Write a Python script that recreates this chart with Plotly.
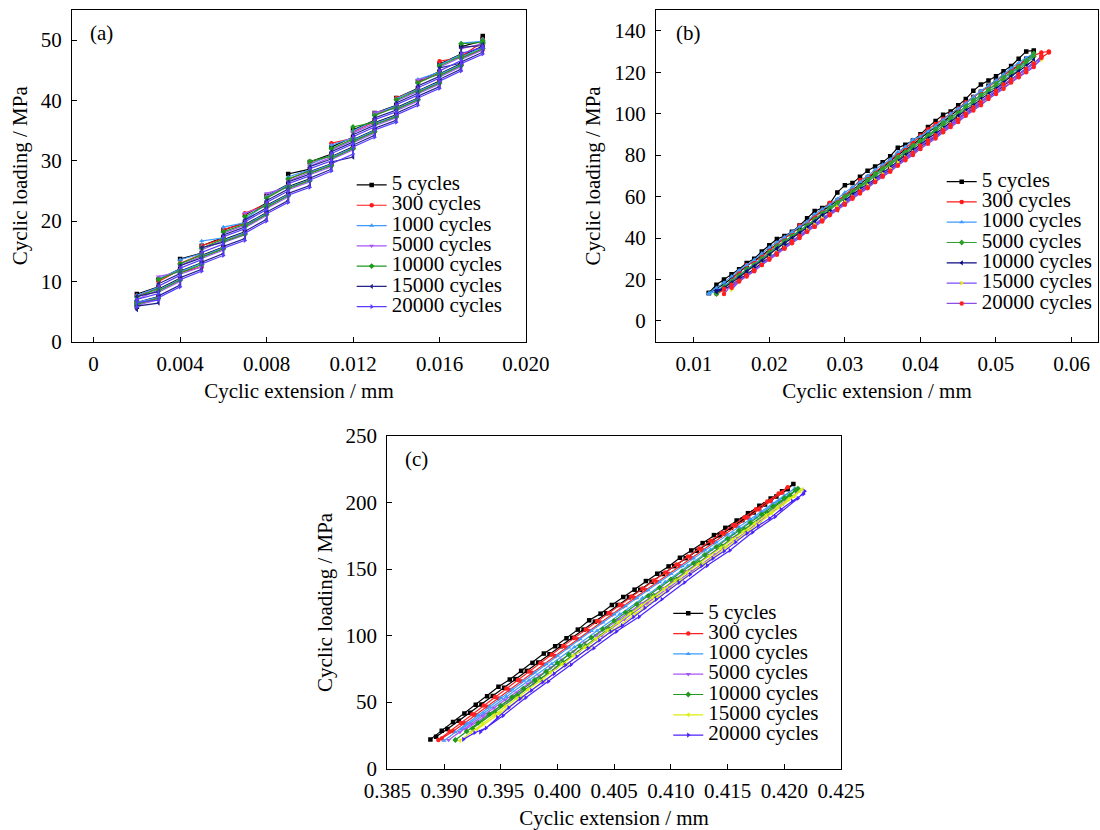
import plotly.graph_objects as go

FONT = "Liberation Serif"
SERIES = ["5 cycles", "300 cycles", "1000 cycles", "5000 cycles",
          "10000 cycles", "15000 cycles", "20000 cycles"]

# ---------------- panel (a): extension readings in micrometres ----------------
XA_UP = [2, 2, 3, 3, 4, 4, 5, 5, 6, 6, 7, 7, 8, 8, 9, 9, 10, 10, 11, 11, 12, 12,
         13, 13, 14, 14, 15, 15, 16, 16, 17, 17, 18, 18]
XA_DN = [18, 18, 17, 17, 16, 16, 15, 15, 14, 14, 13, 13, 12, 12, 11, 11, 10, 10,
         9, 9, 8, 8, 7, 7, 6, 6, 5, 5, 4, 4, 3, 3, 2, 2]

YA_5_UP = [6.6, 7.9, 9.1, 10.3, 12.1, 13.7, 14.7, 15.9, 17.3, 18.5, 19.8, 21.0, 23.0, 24.2, 26.1, 27.8, 28.6, 29.8,
           31.1, 32.3, 33.9, 35.1, 36.7, 37.9, 39.2, 40.4, 42.0, 43.2, 44.8, 46.0, 47.7, 48.9, 49.9, 50.7]
YA_5_DN = [50.2, 49.0, 47.3, 46.1, 44.4, 43.2, 41.6, 40.4, 38.8, 37.6, 36.3, 35.1, 33.5, 32.3, 30.7, 29.5, 28.2, 27.0,
           25.7, 24.5, 22.6, 21.4, 19.4, 18.2, 16.9, 15.7, 14.3, 13.1, 11.7, 10.5, 8.7, 7.5, 6.5, 5.8]
YA_300_UP = [6.2, 7.6, 8.9, 10.0, 11.9, 13.0, 14.5, 15.9, 17.1, 18.6, 19.6, 21.3, 22.8, 24.0, 25.9, 26.9, 28.4, 29.5,
             30.9, 32.9, 33.7, 34.8, 36.5, 37.6, 39.0, 40.4, 41.8, 43.0, 44.6, 46.5, 47.1, 47.3, 49.7, 50.1]
YA_300_DN = [49.3, 48.4, 47.1, 45.9, 44.2, 43.0, 41.4, 40.2, 38.6, 37.4, 36.1, 34.9, 33.3, 32.1, 30.5, 29.3, 28.0, 26.8,
             25.5, 24.3, 22.4, 21.2, 19.2, 18.0, 16.7, 15.5, 14.1, 12.4, 11.5, 10.3, 8.5, 7.3, 6.3, 5.9]
YA_1000_UP = [6.8, 7.7, 9.0, 10.4, 12.0, 13.6, 14.6, 16.7, 17.2, 19.0, 19.7, 20.3, 22.9, 24.1, 26.0, 27.3, 28.5, 29.4,
              31.0, 32.6, 33.8, 35.0, 36.6, 37.8, 39.1, 40.3, 41.9, 43.5, 44.7, 45.9, 47.6, 49.5, 49.8, 50.2]
YA_1000_DN = [49.7, 48.8, 47.2, 46.0, 44.3, 43.1, 41.5, 40.3, 38.7, 37.5, 36.2, 35.0, 33.4, 32.2, 30.6, 29.4, 28.1, 26.9,
              25.6, 24.4, 22.5, 21.3, 19.3, 18.1, 16.8, 15.6, 14.2, 13.0, 11.6, 10.4, 8.6, 7.4, 6.5, 6.0]
YA_5000_UP = [6.0, 7.0, 8.6, 10.8, 11.6, 12.6, 14.2, 15.2, 16.8, 18.0, 19.3, 21.3, 22.5, 24.6, 25.6, 26.6, 28.1, 29.1,
              30.6, 31.8, 33.4, 34.6, 36.2, 38.0, 38.7, 39.9, 41.5, 43.4, 44.3, 45.5, 47.2, 48.6, 49.4, 49.6]
YA_5000_DN = [49.2, 48.4, 46.8, 45.6, 43.9, 42.7, 41.1, 39.9, 38.3, 37.1, 35.8, 34.6, 33.0, 31.8, 30.2, 29.0, 27.7, 26.5,
              25.2, 24.0, 22.1, 20.9, 18.9, 17.7, 16.4, 15.2, 13.8, 12.4, 11.2, 10.0, 8.2, 7.0, 6.0, 5.6]
YA_10000_UP = [6.5, 7.4, 8.8, 10.3, 11.8, 12.9, 14.4, 15.5, 17.0, 18.2, 19.5, 20.7, 22.7, 23.8, 25.8, 27.0, 28.3, 29.9,
               30.8, 32.0, 33.6, 35.6, 36.4, 37.5, 38.9, 40.1, 41.7, 42.9, 44.5, 45.7, 47.4, 49.4, 49.6, 49.9]
YA_10000_DN = [49.4, 48.6, 47.0, 45.8, 44.1, 42.9, 41.3, 40.1, 38.5, 37.3, 36.0, 34.8, 33.2, 32.0, 30.4, 29.2, 27.9, 26.7,
               25.4, 24.2, 22.3, 21.1, 19.1, 17.8, 16.6, 15.4, 14.0, 12.8, 11.4, 10.2, 8.4, 7.2, 6.2, 5.9]
YA_15000_UP = [6.9, 7.5, 8.3, 9.6, 11.3, 12.6, 13.9, 15.6, 16.5, 17.7, 19.0, 20.2, 22.2, 23.4, 25.3, 26.5, 27.8, 29.0,
               30.3, 31.5, 33.1, 34.3, 35.9, 37.1, 38.4, 39.6, 41.2, 42.4, 44.0, 45.4, 46.2, 48.8, 49.1, 49.3]
YA_15000_DN = [48.9, 48.0, 46.4, 45.2, 43.5, 42.3, 40.7, 39.5, 37.9, 36.7, 35.4, 34.2, 32.6, 30.6, 29.8, 28.6, 27.1, 25.9,
               24.6, 23.4, 21.5, 20.3, 18.3, 17.1, 15.8, 14.6, 13.2, 12.0, 10.6, 9.4, 7.6, 6.4, 5.9, 5.3]
YA_20000_UP = [5.8, 7.0, 8.0, 9.2, 11.0, 12.2, 13.6, 14.8, 16.2, 17.4, 18.7, 19.9, 21.9, 23.1, 25.0, 26.2, 27.5, 28.7,
               30.0, 31.2, 32.8, 34.0, 35.6, 36.8, 38.1, 39.3, 40.9, 42.1, 43.7, 44.9, 46.6, 47.8, 48.8, 49.0]
YA_20000_DN = [48.6, 47.7, 46.1, 44.9, 43.2, 42.0, 40.4, 39.2, 37.6, 36.4, 35.1, 33.9, 32.3, 31.1, 29.5, 28.3, 26.8, 25.6,
               24.3, 23.1, 21.2, 20.0, 18.0, 16.8, 15.5, 14.3, 12.9, 11.7, 10.3, 9.1, 7.3, 6.9, 6.5, 5.8]

# ---------------- panel (b): extension readings in micrometres ----------------
XB_5_UP = [12, 13, 14, 15, 16, 17, 18, 19, 20, 21, 22, 23, 24, 25, 26, 27, 28, 29, 30, 31, 32, 33,
           34, 35, 36, 37, 38, 39, 40, 41, 42, 43, 44, 45, 46, 47, 48, 49, 50, 51, 52, 53, 54, 55]
YB_5_UP = [13.5, 17.5, 20.0, 22.5, 25.0, 28.0, 30.0, 33.5, 36.5, 39.5, 41.0, 43.0, 46.0, 49.5, 53.0, 54.5, 56.5,
           62.0, 65.5, 66.5, 69.5, 72.5, 74.5, 76.5, 79.5, 83.5, 85.0, 87.0, 90.0, 93.5, 96.5, 99.5, 101.0, 104.0,
           107.0, 111.0, 114.0, 116.0, 118.0, 120.5, 123.0, 126.5, 130.0, 130.5]
YB_5_DN = [129.0, 126.5, 123.0, 121.0, 118.5, 116.0, 113.5, 110.5, 108.0, 105.0, 102.0, 99.0, 96.0, 93.5, 91.0,
           88.0, 85.0, 82.5, 80.0, 77.0, 74.0, 71.5, 69.0, 66.0, 63.0, 60.5, 58.0, 55.5, 53.0, 50.5, 47.5, 45.0,
           42.5, 40.0, 37.0, 34.5, 31.5, 29.0, 26.5, 23.5, 20.5, 18.0, 15.5, 13.5]
XB_300_UP = [13, 14, 15, 16, 17, 18, 19, 20, 21, 22, 23, 24, 25, 26, 27, 28, 29, 30, 31, 32, 33, 34, 35,
             36, 37, 38, 39, 40, 41, 42, 43, 44, 45, 46, 47, 48, 49, 50, 51, 52, 53, 54, 55, 56, 57]
YB_300_UP = [13.5, 16.0, 19.5, 24.0, 27.0, 28.5, 31.0, 34.0, 37.0, 40.0, 42.0, 46.0, 47.5, 50.0, 53.5, 57.0, 58.0,
             60.5, 64.0, 68.0, 69.5, 72.0, 74.5, 77.5, 80.5, 83.5, 86.0, 89.5, 92.5, 95.0, 97.5, 100.0, 102.5,
             105.5, 108.0, 110.5, 113.0, 115.5, 118.5, 121.0, 123.5, 126.0, 128.0, 129.5, 130.0]
YB_300_DN = [129.5, 127.0, 124.5, 121.5, 119.0, 116.0, 113.5, 111.0, 108.5, 106.0, 103.5, 100.5, 98.0, 95.0, 92.0,
             89.5, 87.0, 84.5, 81.5, 79.0, 76.0, 73.5, 70.5, 68.0, 65.0, 62.5, 60.0, 57.0, 54.5, 52.0, 49.0, 46.5,
             44.0, 41.0, 38.5, 36.0, 33.0, 30.5, 28.0, 25.0, 22.5, 20.0, 17.5, 15.0, 13.0]
XB_1000_UP = [12, 13, 14, 15, 16, 17, 18, 19, 20, 21, 22, 23, 24, 25, 26, 27, 28, 29, 30, 31, 32, 33,
              34, 35, 36, 37, 38, 39, 40, 41, 42, 43, 44, 45, 46, 47, 48, 49, 50, 51, 52, 53, 54, 55]
YB_1000_UP = [13.5, 16.0, 18.5, 21.5, 24.5, 27.0, 29.5, 32.5, 35.5, 38.0, 40.5, 43.0, 45.5, 48.0, 51.5, 54.0, 56.0,
              59.0, 62.0, 64.5, 67.0, 70.0, 73.0, 75.5, 78.0, 81.5, 84.0, 87.5, 89.0, 91.5, 94.0, 97.0, 100.0,
              102.5, 105.0, 108.0, 111.0, 113.5, 116.0, 119.0, 122.0, 124.5, 127.0, 129.0]
YB_1000_DN = [128.0, 125.0, 122.0, 119.5, 117.0, 114.0, 111.5, 109.0, 106.0, 103.5, 100.5, 98.0, 95.0, 92.5, 89.5,
              87.0, 84.5, 81.5, 79.0, 76.0, 73.5, 70.5, 68.0, 65.0, 62.5, 59.5, 57.0, 54.5, 51.5, 49.0, 46.0, 43.5,
              41.0, 38.0, 35.5, 33.0, 30.0, 27.5, 25.0, 22.0, 19.5, 17.0, 14.5, 13.0]
XB_5000_UP = [13, 14, 15, 16, 17, 18, 19, 20, 21, 22, 23, 24, 25, 26, 27, 28, 29, 30, 31, 32, 33, 34,
              35, 36, 37, 38, 39, 40, 41, 42, 43, 44, 45, 46, 47, 48, 49, 50, 51, 52, 53, 54, 55]
YB_5000_UP = [13.0, 16.5, 19.0, 22.0, 25.0, 27.0, 30.0, 33.0, 36.0, 38.5, 41.0, 43.5, 46.0, 49.0, 52.0, 54.5, 57.0,
              60.0, 62.5, 65.0, 68.0, 71.0, 73.5, 76.0, 79.0, 81.5, 84.5, 87.0, 89.5, 92.5, 95.5, 98.0, 100.5,
              103.5, 106.5, 109.0, 111.5, 114.5, 117.5, 120.0, 122.5, 125.5, 129.0]
YB_5000_DN = [127.5, 124.0, 121.0, 118.5, 116.0, 113.0, 110.5, 108.0, 105.0, 102.5, 99.5, 97.0, 94.0, 91.5, 89.0,
              86.0, 83.5, 80.5, 78.0, 75.5, 72.5, 70.0, 67.0, 64.5, 62.0, 59.0, 56.5, 53.5, 51.0, 48.5, 45.5, 43.0,
              40.0, 37.5, 35.0, 32.0, 29.5, 27.0, 24.0, 21.5, 18.5, 16.0, 13.5]
XB_10000_UP = [13, 14, 15, 16, 17, 18, 19, 20, 21, 22, 23, 24, 25, 26, 27, 28, 29, 30, 31, 32, 33, 34,
               35, 36, 37, 38, 39, 40, 41, 42, 43, 44, 45, 46, 47, 48, 49, 50, 51, 52, 53, 54, 55]
YB_10000_UP = [14.5, 16.0, 18.5, 21.0, 24.0, 26.5, 29.0, 32.0, 35.0, 37.5, 40.0, 42.5, 45.0, 48.0, 51.0, 53.0, 53.5,
               58.0, 61.0, 63.5, 66.0, 68.5, 71.5, 74.0, 77.0, 80.0, 82.5, 85.0, 88.0, 90.5, 93.0, 96.0, 99.0,
               101.5, 104.0, 107.0, 109.5, 112.0, 115.0, 118.0, 120.5, 123.0, 126.0]
YB_10000_DN = [124.5, 121.5, 119.0, 116.5, 113.5, 110.5, 108.0, 105.5, 102.5, 100.0, 97.5, 94.5, 92.0, 89.0, 86.5,
               84.0, 81.0, 78.5, 76.0, 73.0, 70.5, 67.5, 65.0, 62.5, 60.0, 57.0, 54.5, 52.0, 49.0, 46.5, 44.0, 41.0,
               38.5, 36.0, 33.0, 30.5, 28.0, 25.0, 22.5, 20.0, 17.0, 15.5, 14.0]
XB_15000_UP = [15, 16, 17, 18, 19, 20, 21, 22, 23, 24, 25, 26, 27, 28, 29, 30, 31, 32, 33, 34, 35, 36,
               37, 38, 39, 40, 41, 42, 43, 44, 45, 46, 47, 48, 49, 50, 51, 52, 53, 54, 55, 56]
YB_15000_UP = [15.0, 19.0, 22.0, 24.5, 27.5, 30.5, 33.0, 35.5, 38.5, 41.0, 44.0, 46.5, 49.5, 52.0, 55.0, 57.5, 60.0,
               63.0, 65.5, 68.0, 71.0, 73.5, 76.5, 79.0, 81.5, 84.5, 87.0, 89.5, 92.5, 95.0, 97.5, 100.5, 103.0,
               106.0, 108.5, 111.0, 114.0, 116.5, 119.0, 122.0, 124.5, 127.0]
YB_15000_DN = [126.0, 123.0, 120.5, 118.0, 115.0, 112.5, 110.0, 107.0, 104.5, 102.0, 99.0, 96.5, 94.0, 91.0, 88.5,
               86.0, 83.0, 80.5, 78.0, 75.0, 72.5, 70.0, 67.0, 64.5, 62.0, 59.0, 56.5, 54.0, 51.0, 48.5, 46.0, 43.0,
               40.5, 38.0, 35.0, 32.5, 30.0, 27.0, 24.5, 22.0, 19.0, 16.5]
XB_20000_UP = [14, 15, 16, 17, 18, 19, 20, 21, 22, 23, 24, 25, 26, 27, 28, 29, 30, 31, 32, 33, 34, 35,
               36, 37, 38, 39, 40, 41, 42, 43, 44, 45, 46, 47, 48, 49, 50, 51, 52, 53, 54, 55, 56]
YB_20000_UP = [13.0, 17.5, 19.5, 22.0, 24.5, 27.0, 30.0, 32.5, 35.0, 38.5, 41.0, 43.0, 45.5, 48.5, 51.5, 54.0, 56.5,
               59.5, 62.5, 64.5, 67.0, 70.0, 72.5, 75.0, 78.5, 81.0, 84.5, 87.0, 89.5, 92.0, 94.5, 97.0, 100.0,
               103.0, 105.5, 108.0, 111.0, 114.0, 116.5, 119.0, 121.5, 124.0, 128.0]
YB_20000_DN = [127.0, 122.5, 120.0, 117.5, 115.0, 112.0, 109.5, 107.0, 104.0, 101.5, 99.0, 96.0, 93.5, 91.0, 88.0,
               85.5, 83.0, 80.0, 77.5, 75.0, 72.0, 69.5, 67.0, 64.0, 61.5, 59.0, 56.0, 53.5, 51.0, 48.0, 45.5, 43.0,
               40.0, 37.5, 35.0, 32.0, 29.5, 27.0, 24.0, 21.5, 19.0, 16.0, 15.5]

# ---------------- panel (c): extension readings in micrometres ----------------
XC_5_UP = [388.8, 389.8, 390.8, 391.8, 392.8, 393.8, 394.8, 395.8, 396.8, 397.8, 398.8, 399.8, 400.8, 401.8,
           402.8, 403.8, 404.8, 405.8, 406.8, 407.8, 408.8, 409.8, 410.8, 411.8, 412.8, 413.8, 414.8, 415.8,
           416.8, 417.8, 418.8, 419.8, 420.8]
YC_5_UP = [22.0, 28.5, 35.0, 41.5, 48.0, 54.5, 61.5, 67.0, 73.5, 79.5, 86.5, 92.0, 98.0, 104.5, 111.5, 116.5, 123.0,
           129.0, 134.5, 141.0, 146.5, 152.0, 158.5, 164.0, 169.5, 175.5, 181.0, 186.5, 192.0, 197.5, 203.0, 208.5,
           214.0]
XC_5_DN = [420.3, 419.3, 418.3, 417.3, 416.3, 415.3, 414.3, 413.3, 412.3, 411.3, 410.3, 409.3, 408.3, 407.3,
           406.3, 405.3, 404.3, 403.3, 402.3, 401.3, 400.3, 399.3, 398.3, 397.3, 396.3, 395.3, 394.3, 393.3,
           392.3, 391.3, 390.3, 389.3]
YC_5_DN = [210.0, 204.5, 198.5, 192.5, 186.8, 181.0, 175.3, 169.5, 163.8, 158.2, 152.2, 146.3, 140.5, 134.5, 128.8,
           123.0, 116.8, 110.5, 104.5, 98.3, 92.0, 86.0, 79.8, 73.5, 67.3, 60.9, 54.7, 48.3, 42.0, 36.0, 29.8, 24.0]
XC_300_UP = [389.5, 390.5, 391.5, 392.5, 393.5, 394.5, 395.5, 396.5, 397.5, 398.5, 399.5, 400.5, 401.5, 402.5,
             403.5, 404.5, 405.5, 406.5, 407.5, 408.5, 409.5, 410.5, 411.5, 412.5, 413.5, 414.5, 415.5, 416.5,
             417.5, 418.5, 419.5, 420.3]
YC_300_UP = [21.5, 28.0, 34.4, 40.9, 47.4, 53.8, 60.2, 66.7, 73.1, 79.4, 85.8, 92.1, 98.3, 104.6, 110.9, 117.0,
             123.2, 129.3, 135.4, 141.4, 147.5, 153.5, 159.4, 165.4, 171.3, 177.2, 183.1, 189.0, 194.9, 200.7,
             206.7, 211.5]
XC_300_DN = [419.8, 418.8, 417.8, 416.8, 415.8, 414.8, 413.8, 412.8, 411.8, 410.8, 409.8, 408.8, 407.8, 406.8,
             405.8, 404.8, 403.8, 402.8, 401.8, 400.8, 399.8, 398.8, 397.8, 396.8, 395.8, 394.8, 393.8, 392.8,
             391.8, 390.8, 389.8]
YC_300_DN = [207.3, 201.0, 194.8, 188.5, 182.3, 176.2, 170.2, 164.2, 158.3, 152.3, 146.4, 140.3, 134.3, 128.2,
             122.0, 115.9, 109.8, 103.5, 97.2, 91.0, 84.7, 78.3, 72.0, 65.6, 59.1, 52.8, 46.6, 40.4, 34.2, 28.2, 22.6]
XC_1000_UP = [390.0, 391.0, 392.0, 393.0, 394.0, 395.0, 396.0, 397.0, 398.0, 399.0, 400.0, 401.0, 402.0, 403.0,
              404.0, 405.0, 406.0, 407.0, 408.0, 409.0, 410.0, 411.0, 412.0, 413.0, 414.0, 415.0, 416.0, 417.0,
              418.0, 419.0, 420.0, 420.9]
YC_1000_UP = [21.0, 27.4, 33.9, 40.3, 46.7, 53.2, 59.5, 65.9, 72.3, 78.6, 84.9, 91.2, 97.4, 103.6, 109.9, 116.0,
              122.1, 128.2, 134.2, 140.2, 146.3, 152.2, 158.1, 164.1, 170.0, 175.8, 181.7, 187.5, 193.3, 199.2,
              205.1, 210.5]
XC_1000_DN = [419.5, 417.5, 415.5, 413.5, 411.5, 409.5, 407.5, 405.5, 403.5, 401.5, 399.5, 397.5, 395.5, 393.5, 391.5]
YC_1000_DN = [201.3, 188.8, 176.6, 164.6, 152.5, 140.3, 128.3, 116.1, 103.7, 91.3, 78.7, 66.3, 54.0, 41.6, 29.5]
XC_5000_UP = [390.4, 391.4, 392.4, 393.4, 394.4, 395.4, 396.4, 397.4, 398.4, 399.4, 400.4, 401.4, 402.4, 403.4,
              404.4, 405.4, 406.4, 407.4, 408.4, 409.4, 410.4, 411.4, 412.4, 413.4, 414.4, 415.4, 416.4, 417.4,
              418.4, 419.4, 420.4, 421.4]
YC_5000_UP = [21.5, 27.5, 33.6, 39.6, 45.7, 51.7, 57.2, 63.8, 69.9, 75.9, 82.0, 88.0, 94.8, 100.1, 106.2, 112.2,
              118.3, 124.3, 130.4, 135.8, 142.5, 148.5, 154.6, 160.6, 166.7, 173.4, 178.7, 184.8, 190.8, 196.9,
              202.9, 209.0]
XC_5000_DN = [419.9, 417.9, 415.9, 413.9, 411.9, 409.9, 407.9, 405.9, 403.9, 401.9, 399.9, 397.9, 395.9, 393.9, 391.9]
YC_5000_DN = [198.9, 186.0, 173.4, 161.0, 148.7, 136.4, 124.3, 112.2, 100.1, 88.0, 75.9, 64.0, 52.4, 40.8, 29.5]
XC_10000_UP = [391.0, 392.0, 393.0, 394.0, 395.0, 396.0, 397.0, 398.0, 399.0, 400.0, 401.0, 402.0, 403.0, 404.0,
               405.0, 406.0, 407.0, 408.0, 409.0, 410.0, 411.0, 412.0, 413.0, 414.0, 415.0, 416.0, 417.0, 418.0,
               419.0, 420.0, 421.0, 421.2]
YC_10000_UP = [21.5, 28.0, 34.4, 40.9, 47.3, 53.8, 60.2, 66.6, 73.1, 79.4, 85.8, 92.1, 98.5, 104.9, 111.1, 117.4,
               123.6, 129.9, 136.0, 142.2, 148.4, 154.5, 160.7, 166.7, 172.9, 179.0, 185.0, 191.1, 197.1, 203.2,
               209.2, 210.5]
XC_10000_DN = [420.5, 418.5, 416.5, 414.5, 412.5, 410.5, 408.5, 406.5, 404.5, 402.5, 400.5, 398.5, 396.5, 394.5, 392.5]
YC_10000_DN = [205.3, 192.4, 179.8, 167.2, 154.8, 142.3, 130.0, 117.5, 105.0, 92.2, 79.7, 67.1, 54.6, 42.2, 30.1]
XC_15000_UP = [391.4, 392.4, 393.4, 394.4, 395.4, 396.4, 397.4, 398.4, 399.4, 400.4, 401.4, 402.4, 403.4, 404.4,
               405.4, 406.4, 407.4, 408.4, 409.4, 410.4, 411.4, 412.4, 413.4, 414.4, 415.4, 416.4, 417.4, 418.4,
               419.4, 420.4, 421.4, 421.6]
YC_15000_UP = [21.0, 27.4, 33.8, 40.2, 46.6, 53.0, 59.4, 65.8, 72.2, 78.5, 84.9, 91.2, 97.5, 103.9, 110.1, 116.4,
               122.6, 128.9, 135.0, 141.3, 147.5, 153.6, 159.8, 165.9, 172.1, 178.2, 184.3, 190.4, 196.5, 202.6,
               208.7, 210.0]
XC_15000_DN = [420.9, 418.9, 416.9, 414.9, 412.9, 410.9, 408.9, 406.9, 404.9, 402.9, 400.9, 398.9, 396.9, 394.9, 392.9]
YC_15000_DN = [204.7, 191.7, 179.0, 166.4, 153.9, 141.4, 129.0, 116.5, 104.0, 91.3, 78.8, 66.3, 53.8, 41.5, 29.5]
XC_20000_UP = [391.7, 392.7, 393.7, 394.7, 395.7, 396.7, 397.7, 398.7, 399.7, 400.7, 401.7, 402.7, 403.7, 404.7,
               405.7, 406.7, 407.7, 408.7, 409.7, 410.7, 411.7, 412.7, 413.7, 414.7, 415.7, 416.7, 417.7, 418.7,
               419.7, 420.7, 421.7, 421.8]
YC_20000_UP = [22.0, 27.0, 30.5, 38.5, 45.8, 52.5, 58.8, 65.0, 71.4, 77.8, 84.2, 90.4, 96.5, 102.9, 107.5, 114.0,
               120.8, 127.2, 133.5, 139.8, 146.0, 152.3, 158.0, 163.5, 170.2, 176.8, 182.5, 188.0, 194.8, 201.0,
               206.5, 208.5]
XC_20000_DN = [421.2, 419.2, 417.2, 415.2, 413.2, 411.2, 409.2, 407.2, 405.2, 403.2, 401.2, 399.2, 397.2, 395.2, 393.2]
YC_20000_DN = [203.1, 189.3, 177.6, 164.0, 152.6, 139.9, 127.3, 114.1, 103.0, 90.5, 78.1, 65.5, 53.3, 39.8, 27.5]

# ---------------- tick labels ----------------
TICKS_A_X = [0, 0.004, 0.008, 0.012, 0.016, 0.020]
TEXT_A_X = ["0", "0.004", "0.008", "0.012", "0.016", "0.020"]
TICKS_A_Y = [0, 10, 20, 30, 40, 50]
TICKS_B_X = [0.01, 0.02, 0.03, 0.04, 0.05, 0.06]
TEXT_B_X = ["0.01", "0.02", "0.03", "0.04", "0.05", "0.06"]
TICKS_B_Y = [0, 20, 40, 60, 80, 100, 120, 140]
TICKS_C_X = [0.385, 0.390, 0.395, 0.400, 0.405, 0.410, 0.415, 0.420, 0.425]
TEXT_C_X = ["0.385", "0.390", "0.395", "0.400", "0.405", "0.410", "0.415", "0.420", "0.425"]
TICKS_C_Y = [0, 50, 100, 150, 200, 250]

# ---------------- styles ----------------
LINE_A = ["#000000", "#FF1A1A", "#3D9BFF", "#A855F7", "#1F9A1F", "#23238C", "#5A3CFF"]
MARK_A = LINE_A
SYM_A = ["square", "circle", "triangle-up", "triangle-down", "diamond", "triangle-left", "triangle-right"]
LINE_B = ["#000000", "#FF1A1A", "#3D9BFF", "#2FA02F", "#0A0A80", "#7A4DFF", "#8A4DE6"]
MARK_B = ["#000000", "#FF1A1A", "#3D9BFF", "#2FA02F", "#0A0A80", "#E8E800", "#FF2020"]
SYM_B = ["square", "circle", "triangle-up", "diamond", "triangle-left", "triangle-right", "circle"]
LINE_C = ["#000000", "#FF2020", "#3D9BFF", "#A855F7", "#1F9A1F", "#DDEE11", "#4A22FF"]
MARK_C = LINE_C
SYM_C = ["square", "circle", "triangle-up", "triangle-down", "diamond", "triangle-left", "triangle-right"]

A_UP = [YA_5_UP, YA_300_UP, YA_1000_UP, YA_5000_UP, YA_10000_UP, YA_15000_UP, YA_20000_UP]
A_DN = [YA_5_DN, YA_300_DN, YA_1000_DN, YA_5000_DN, YA_10000_DN, YA_15000_DN, YA_20000_DN]
B_XUP = [XB_5_UP, XB_300_UP, XB_1000_UP, XB_5000_UP, XB_10000_UP, XB_15000_UP, XB_20000_UP]
B_UP = [YB_5_UP, YB_300_UP, YB_1000_UP, YB_5000_UP, YB_10000_UP, YB_15000_UP, YB_20000_UP]
B_DN = [YB_5_DN, YB_300_DN, YB_1000_DN, YB_5000_DN, YB_10000_DN, YB_15000_DN, YB_20000_DN]
C_XUP = [XC_5_UP, XC_300_UP, XC_1000_UP, XC_5000_UP, XC_10000_UP, XC_15000_UP, XC_20000_UP]
C_UP = [YC_5_UP, YC_300_UP, YC_1000_UP, YC_5000_UP, YC_10000_UP, YC_15000_UP, YC_20000_UP]
C_XDN = [XC_5_DN, XC_300_DN, XC_1000_DN, XC_5000_DN, XC_10000_DN, XC_15000_DN, XC_20000_DN]
C_DN = [YC_5_DN, YC_300_DN, YC_1000_DN, YC_5000_DN, YC_10000_DN, YC_15000_DN, YC_20000_DN]

for ys in A_UP:
    assert len(ys) == len(XA_UP)
for ys in A_DN:
    assert len(ys) == len(XA_DN)
for xs, yu, yd in zip(B_XUP, B_UP, B_DN):
    assert len(xs) == len(yu) == len(yd), (len(xs), len(yu), len(yd))
for xs, ys in zip(C_XUP, C_UP):
    assert len(xs) == len(ys), (len(xs), len(ys))
for xs, ys in zip(C_XDN, C_DN):
    assert len(xs) == len(ys), (len(xs), len(ys))


def um_to_mm(values):
    return [v / 1000.0 for v in values]


def legend_label(name):
    return "<span style='font-size:21px'>" + name + "</span>"


fig = go.Figure()


def add_loop(xs_um, ys, i, line_cols, mark_cols, symbols, axis, legend_id):
    suffix = "" if axis == 1 else str(axis)
    fig.add_trace(go.Scatter(
        x=um_to_mm(xs_um), y=ys, mode="lines+markers",
        name=legend_label(SERIES[i]),
        line=dict(color=line_cols[i], width=1.2),
        marker=dict(symbol=symbols[i], size=4.5, color=mark_cols[i], line=dict(width=0)),
        xaxis="x" + suffix, yaxis="y" + suffix, legend=legend_id,
    ))


for i in range(7):
    add_loop(XA_UP + XA_DN, A_UP[i] + A_DN[i], i, LINE_A, MARK_A, SYM_A, 1, "legend")
for i in range(7):
    add_loop(B_XUP[i] + B_XUP[i][::-1], B_UP[i] + B_DN[i], i, LINE_B, MARK_B, SYM_B, 2, "legend2")
for i in range(7):
    add_loop(C_XUP[i] + C_XDN[i], C_UP[i] + C_DN[i], i, LINE_C, MARK_C, SYM_C, 3, "legend3")

TICK_FONT = dict(family=FONT, size=21, color="black")


def axis(domain, rng, tickvals, ticktext, title, anchor, standoff, label_standoff):
    d = dict(
        domain=domain, range=rng, anchor=anchor, automargin=False,
        tickmode="array", tickvals=tickvals,
        showline=True, linecolor="black", linewidth=1.3, mirror=True,
        ticks="inside", ticklen=5, tickwidth=1, tickcolor="black",
        showgrid=False, zeroline=False, tickfont=TICK_FONT,
        ticklabelstandoff=label_standoff,
        title=dict(text=title, font=TICK_FONT, standoff=standoff),
    )
    if ticktext is not None:
        d["ticktext"] = ticktext
    return d


XT = "Cyclic extension / mm"
YT = "Cyclic loading / MPa"
YA_DOM = [0.5883, 0.9880]
YC_DOM = [0.0739, 0.4747]


def legend_box(x, y):
    return dict(x=x, y=y, xanchor="left", yanchor="top",
                font=dict(family=FONT, size=13.3, color="black"),
                bgcolor="rgba(0,0,0,0)", borderwidth=0,
                tracegroupgap=0, itemsizing="trace", traceorder="normal")


fig.update_layout(
    width=1100, height=830,
    margin=dict(l=0, r=0, t=0, b=0, autoexpand=False),
    paper_bgcolor="white", plot_bgcolor="white",
    font=dict(family=FONT, size=21, color="black"),
    xaxis=axis([0.06545, 0.47818], [-0.001, 0.020], TICKS_A_X, TEXT_A_X, XT, "y", 8, 3),
    yaxis=axis(YA_DOM, [0, 55], TICKS_A_Y, None, YT, "x", 7, 5),
    xaxis2=axis([0.59636, 0.99818], [0.005, 0.0635], TICKS_B_X, TEXT_B_X, XT, "y2", 8, 3),
    yaxis2=axis(YA_DOM, [-10, 150], TICKS_B_Y, None, YT, "x2", 7, 5),
    xaxis3=axis([0.35209, 0.76455], [0.385, 0.425], TICKS_C_X, TEXT_C_X, XT, "y3", 8, 3),
    yaxis3=axis(YC_DOM, [0, 250], TICKS_C_Y, None, YT, "x3", 7, 5),
    legend=legend_box(0.3197, 0.7954),
    legend2=legend_box(0.8561, 0.7994),
    legend3=legend_box(0.6075, 0.2793),
    showlegend=True,
    annotations=[
        dict(text="(a)", x=0.0927, y=0.9602, xref="paper", yref="paper",
             showarrow=False, font=TICK_FONT, xanchor="center", yanchor="middle"),
        dict(text="(b)", x=0.6255, y=0.9602, xref="paper", yref="paper",
             showarrow=False, font=TICK_FONT, xanchor="center", yanchor="middle"),
        dict(text="(c)", x=0.3790, y=0.4470, xref="paper", yref="paper",
             showarrow=False, font=TICK_FONT, xanchor="center", yanchor="middle"),
    ],
)

fig.write_html("out.html")
